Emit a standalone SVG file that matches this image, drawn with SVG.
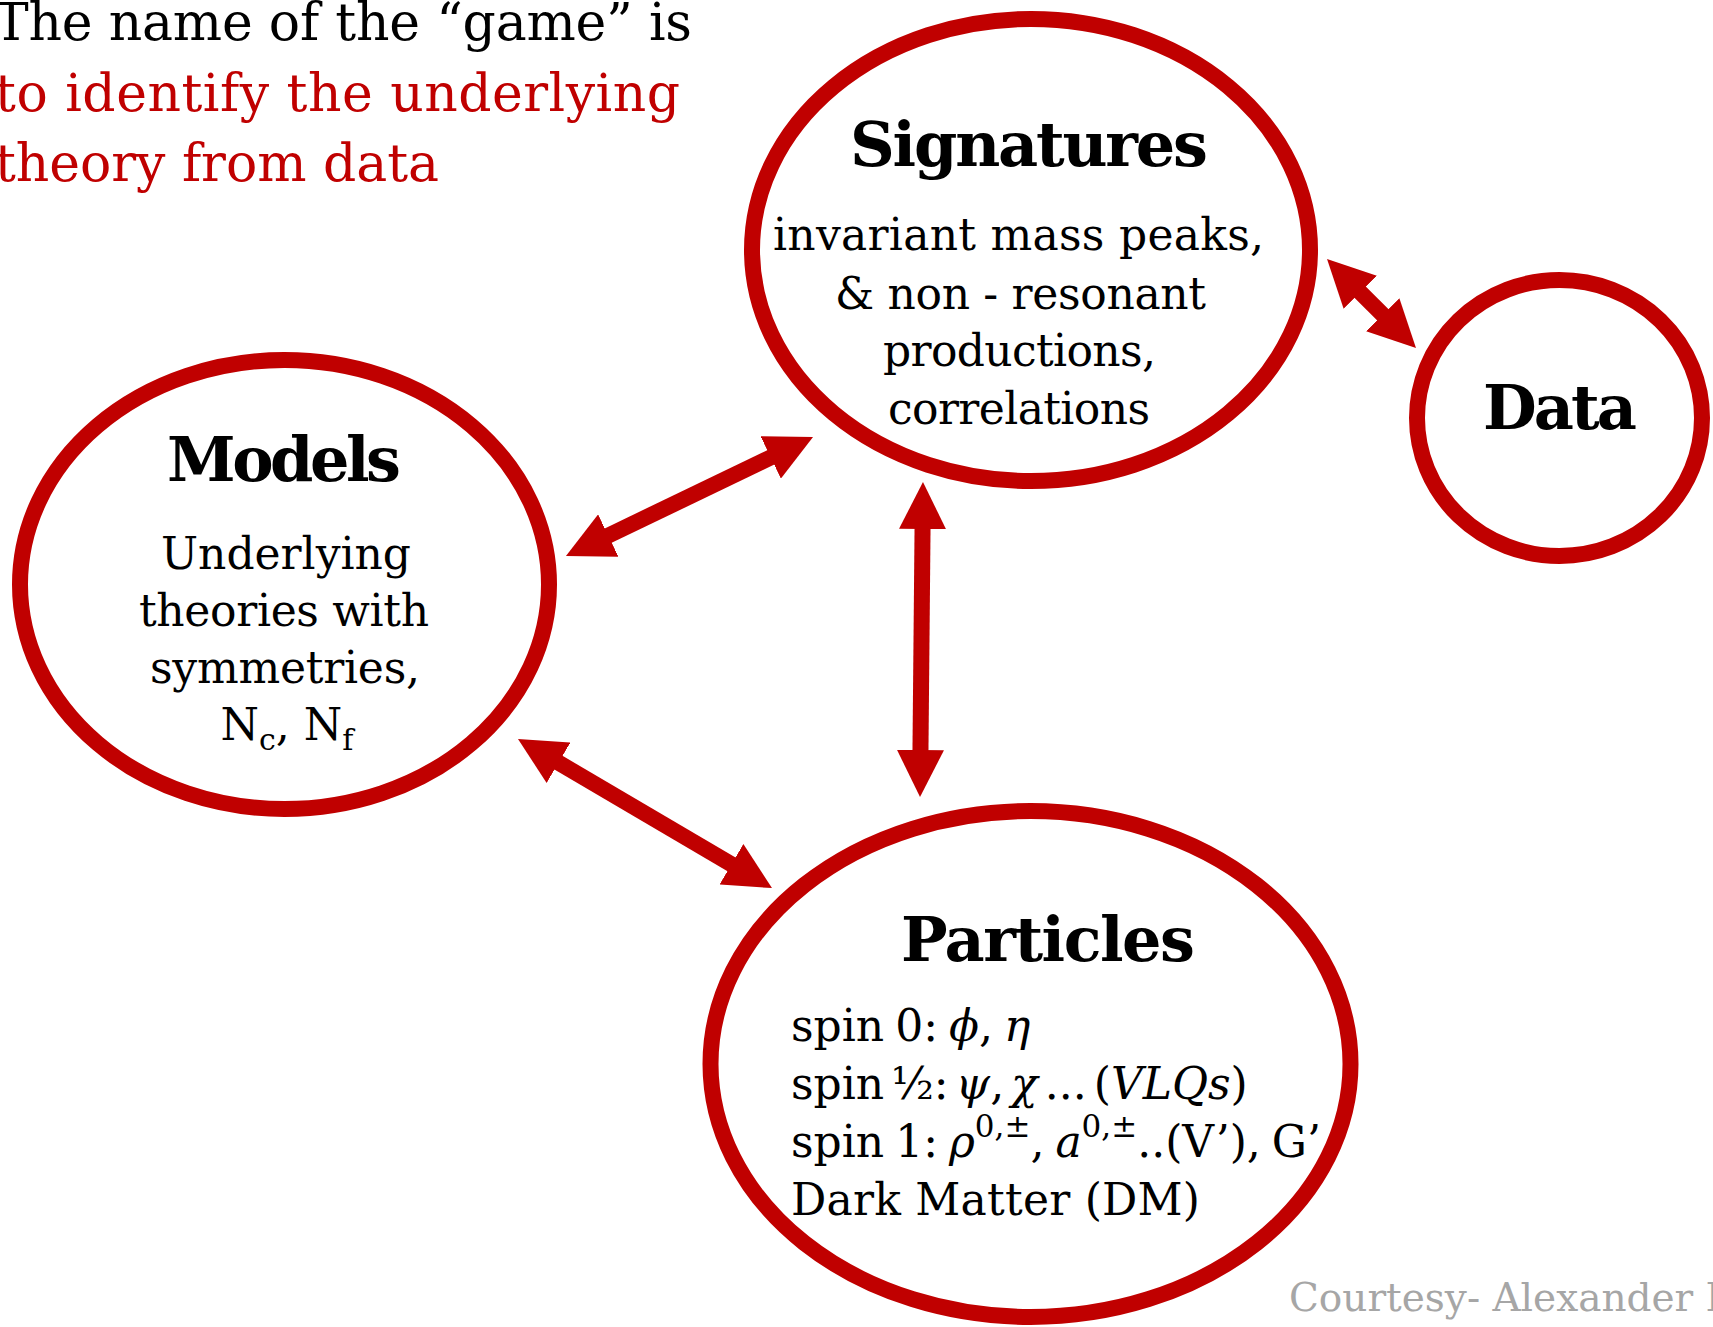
<svg xmlns="http://www.w3.org/2000/svg" width="1713" height="1327" viewBox="0 0 1713 1327">
<style>
  .node ellipse { fill: #ffffff; stroke: #C00000; stroke-width: 16; }
  text { font-family: "DejaVu Serif", "Liberation Serif", serif; fill: #000000; }
  .title { font-weight: bold; font-size: 62px; text-anchor: middle; }
  .body { font-size: 44px; text-anchor: middle; }
  .pbody { font-size: 44px; }
  .intro { font-size: 52px; }
  .red { fill: #C00000; }
  .it { font-style: italic; }
  .sup { font-size: 31px; }
  .sub { font-size: 30px; }
  .conn line { stroke: #C00000; stroke-width: 16; marker-start: url(#head); marker-end: url(#head); }
  .credit { font-size: 39px; fill: #A6A6A6; }
</style>
<defs>
  <marker id="head" markerUnits="userSpaceOnUse" markerWidth="47" markerHeight="47" viewBox="0 0 47 47" refX="7" refY="23.5" orient="auto-start-reverse">
    <path d="M0,0 L47,23.5 L0,47 Z" fill="#C00000"/>
  </marker>
</defs>
<rect x="0" y="0" width="1713" height="1327" fill="#ffffff"/>

<g id="intro">
  <text class="intro" x="-6" y="40" textLength="698">The name of the “game” is</text>
  <text class="intro red" x="-5" y="110.5" textLength="685">to identify the underlying</text>
  <text class="intro red" x="-5" y="181" textLength="444">theory from data</text>
</g>

<g id="connectors" class="conn">
  <line x1="602" y1="538.6" x2="777" y2="454.4"/>
  <line x1="552.5" y1="759.2" x2="737.5" y2="867.8"/>
  <line x1="922.6" y1="522" x2="920.4" y2="757"/>
  <line x1="1355.3" y1="287.3" x2="1387.7" y2="319.7"/>
</g>

<g id="models" class="node">
  <ellipse cx="284.5" cy="584.5" rx="264.5" ry="224.5"/>
  <text class="title" x="284" y="481" textLength="234">Models</text>
  <text class="body" x="286" y="569" textLength="250">Underlying</text>
  <text class="body" x="284" y="626" textLength="290">theories with</text>
  <text class="body" x="285" y="683" textLength="270">symmetries,</text>
  <text class="body" x="287" y="740">N<tspan class="sub" dy="10">c</tspan><tspan dy="-10">, N</tspan><tspan class="sub" dy="10">f</tspan></text>
</g>

<g id="signatures" class="node">
  <ellipse cx="1031" cy="250" rx="279" ry="231"/>
  <text class="title" x="1029" y="166" textLength="358">Signatures</text>
  <text class="body" x="1018.5" y="250" textLength="491">invariant mass peaks,</text>
  <text class="body" x="1020.5" y="309" textLength="371">&amp; non - resonant</text>
  <text class="body" x="1019.5" y="366" textLength="273">productions,</text>
  <text class="body" x="1019" y="424" textLength="262">correlations</text>
</g>

<g id="data" class="node">
  <ellipse cx="1559.5" cy="418" rx="142.5" ry="138"/>
  <text class="title" x="1560" y="429" textLength="154">Data</text>
</g>

<g id="particles" class="node">
  <ellipse cx="1030.5" cy="1064" rx="320" ry="253"/>
  <text class="title" x="1048" y="961" textLength="294">Particles</text>
  <text class="pbody" x="791" y="1041" word-spacing="-3">spin 0: <tspan class="it">ϕ</tspan>, <tspan class="it">η</tspan></text>
  <text class="pbody" x="791" y="1099" word-spacing="-7">spin ½: <tspan class="it">ψ</tspan>, <tspan class="it">χ</tspan> ... (<tspan class="it">VLQs</tspan>)</text>
  <text class="pbody" x="791" y="1157" word-spacing="-3">spin 1: <tspan class="it">ρ</tspan><tspan class="sup" dy="-20">0,±</tspan><tspan dy="20">, </tspan><tspan class="it">a</tspan><tspan class="sup" dy="-20">0,±</tspan><tspan dy="20">..(V’), G’</tspan></text>
  <text class="pbody" x="791" y="1215" textLength="409">Dark Matter (DM)</text>
</g>

<g id="credit">
  <text class="credit" x="1289" y="1311">Courtesy- Alexander B</text>
</g>
</svg>
